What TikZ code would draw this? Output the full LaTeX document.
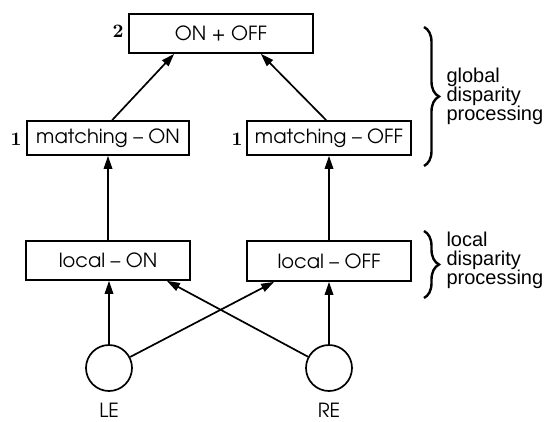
\documentclass[tikz,border=0pt]{standalone}
\usepackage{fontspec}
\newfontfamily\notefont{Liberation Sans}
\newfontfamily\agfont{texgyreadventor-regular}[Extension=.otf]
\newfontfamily\numfont{lmroman10-bold}[Extension=.otf]
\usetikzlibrary{arrows.meta,decorations.pathreplacing,calc}

\tikzset{
  stage/.style={draw, line width=1.7pt, inner sep=0pt, font=\agfont\fontsize{19.5}{19.5}\selectfont},
  eye/.style={draw, circle, line width=1.7pt, minimum size=46pt, inner sep=0pt},
  eyename/.style={font=\agfont\fontsize{19.5}{19.5}\selectfont},
  level/.style={font=\numfont\fontsize{19}{19}\selectfont},
  flow/.style={line width=1.7pt, -{Triangle[length=13pt,width=8.5pt]}},
  bracket/.style={line width=2.4pt, decorate, decoration={brace, amplitude=15pt}},
  note/.style={anchor=base west, align=left, font=\notefont\fontsize{20}{19}\selectfont}
}

\begin{document}
\begin{tikzpicture}[x=1pt,y=-1pt]
  \useasboundingbox (0,0) rectangle (551,421);

  % processing stages
  \node[stage, minimum width=184pt, minimum height=39pt] (top)  at (221,33.5) {ON + OFF};
  \node[stage, minimum width=162pt, minimum height=34pt] (mon)  at (108,138)  {matching – ON};
  \node[stage, minimum width=164pt, minimum height=34pt] (moff) at (329,138)  {matching – OFF};
  \node[stage, minimum width=164pt, minimum height=39pt] (lon)  at (108,260.5) {local – ON};
  \node[stage, minimum width=164pt, minimum height=40pt] (loff) at (329,261) {local – OFF};

  % level numbers
  \node[level] (n2)  at (118,31)  {2};
  \node[level] (n1a) at (16,139)  {1};
  \node[level] (n1b) at (237,139) {1};

  % the two eyes
  \node[eye] (LE) at (109,368) {};
  \node[eye] (RE) at (329,368) {};
  \node[eyename] (LEt) at (109,410) {LE};
  \node[eyename] (REt) at (329,410) {RE};

  % connections
  \coordinate (lonIn)  at ($(lon.south east)+(-24,0)$);
  \coordinate (loffIn) at ($(loff.south west)+(28,0)$);
  \draw[flow] (LE) -- (LE |- lon.south);
  \draw[flow] (RE) -- (RE |- loff.south);
  \draw[flow] (LE) -- (loffIn);
  \draw[flow] (RE) -- (lonIn);
  \draw[flow] (lon.north) -- (mon.south);
  \draw[flow] (loff.north) -- (moff.south);
  \coordinate (monOut)  at ($(mon.north west)+(86,0)$);
  \coordinate (moffOut) at ($(moff.north west)+(80,0)$);
  \coordinate (topInL)  at ($(top.south west)+(46,0)$);
  \coordinate (topInR)  at ($(top.south east)+(-53,0)$);
  \draw[flow] (monOut) -- (topInL);
  \draw[flow] (moffOut) -- (topInR);

  % braces and their notes
  \draw[bracket] (424,27) -- (424,166);
  \draw[bracket] (424,231) -- (424,298);
  \node[note] (gnote) at (443,120) {global\\disparity\\processing};
  \node[note] (lnote) at (443,284) {local\\disparity\\processing};
\end{tikzpicture}
\end{document}
